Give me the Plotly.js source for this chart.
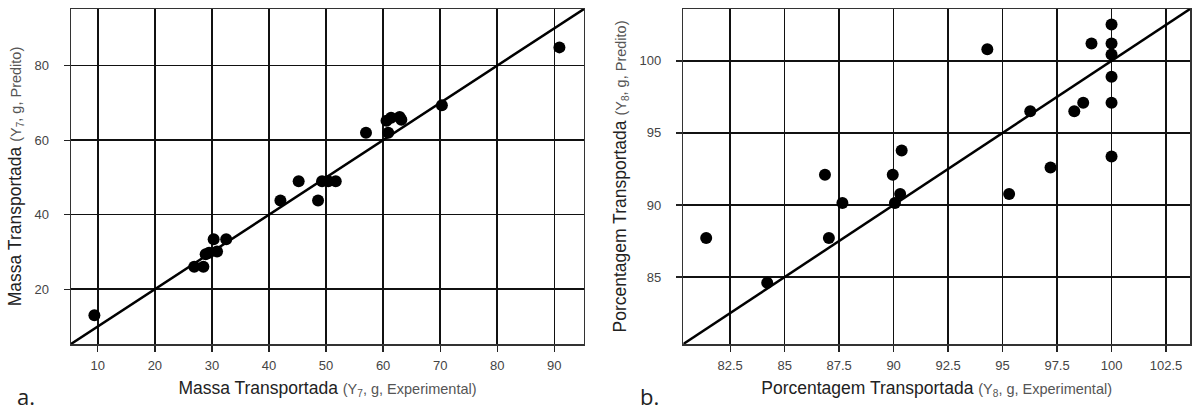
<!DOCTYPE html>
<html>
<head>
<meta charset="utf-8">
<script src="https://cdn.plot.ly/plotly-3.0.1.min.js"></script>
<style>html,body{margin:0;padding:0;background:#fff;}#chart{width:1192px;height:414px;}</style>
</head>
<body>
<div id="chart"></div>
<script>
// Panel a: Massa Transportada (Y7)
const massaExperimental = [9.4, 26.9, 28.5, 28.9, 29.5, 30.9, 30.3, 32.5, 42.0, 45.2, 48.6, 49.3, 50.4, 51.7, 57.0, 60.6, 61.4, 60.9, 62.9, 63.2, 70.3, 90.9];
const massaPredito     = [13.0, 26.0, 26.0, 29.4, 29.8, 30.1, 33.4, 33.4, 43.8, 49.0, 43.8, 49.0, 49.0, 49.0, 62.0, 65.2, 66.0, 62.0, 66.2, 65.5, 69.4, 84.9];
const massaRange = [5.3, 95.2];
const massaTicks = [10, 20, 30, 40, 50, 60, 70, 80, 90];
const massaYTicks = [20, 40, 60, 80];

// Panel b: Porcentagem Transportada (Y8)
const porcExperimental = [81.4, 84.2, 86.85, 87.03, 87.65, 89.96, 90.37, 90.3, 90.06, 94.3, 95.3, 96.27, 97.2, 98.29, 98.7, 99.08, 100, 100, 100, 100, 100, 100];
const porcPredito      = [87.7, 84.6, 92.1, 87.7, 90.14, 92.1, 93.78, 90.76, 90.14, 100.81, 90.76, 96.5, 92.6, 96.5, 97.1, 101.2, 102.53, 101.2, 100.45, 98.9, 97.1, 93.37];
const porcRange = [80.35, 103.6];
const porcTicks = [82.5, 85, 87.5, 90, 92.5, 95, 97.5, 100, 102.5];
const porcTickText = ['82.5', '85', '87.5', '90', '92.5', '95', '97.5', '100', '102.5'];
const porcYTicks = [85, 90, 95, 100];

const FONT = '"Liberation Sans", Arial, sans-serif';
const marker = {color: '#000', size: 12};
const traces = [
  {x: massaRange, y: massaRange, mode: 'lines', line: {color: '#000', width: 2.5}, xaxis: 'x', yaxis: 'y', hoverinfo: 'skip'},
  {x: massaExperimental, y: massaPredito, mode: 'markers', marker: marker, xaxis: 'x', yaxis: 'y'},
  {x: porcRange, y: porcRange, mode: 'lines', line: {color: '#000', width: 2.5}, xaxis: 'x2', yaxis: 'y2', hoverinfo: 'skip'},
  {x: porcExperimental, y: porcPredito, mode: 'markers', marker: marker, xaxis: 'x2', yaxis: 'y2'}
];

function axis(extra) {
  return Object.assign({
    showgrid: true, gridcolor: '#111', gridwidth: 1.5,
    showline: true, linecolor: '#333', linewidth: 1.5, mirror: true,
    ticks: 'outside', ticklen: 6, tickcolor: '#222', tickwidth: 1.3,
    tickfont: {family: FONT, size: 13, color: '#444'},
    zeroline: false, fixedrange: true, automargin: false
  }, extra);
}

const sub = (t) => '<span style="font-size:14.5px;color:#555">' + t + '</span>';
const titleFont = {family: FONT, size: 17.5, color: '#222'};

const layout = {
  width: 1192, height: 414,
  margin: {l: 71, r: 2, t: 9, b: 70},
  paper_bgcolor: '#fff', plot_bgcolor: '#fff',
  showlegend: false,
  xaxis: axis({domain: [0, 0.4584], range: massaRange, tickvals: massaTicks, ticklabelstandoff: 3,
    title: {text: 'Massa Transportada ' + sub('(Y<sub>7</sub>, g, Experimental)'), font: titleFont, standoff: 9}}),
  yaxis: axis({domain: [0, 1], range: massaRange, tickvals: massaYTicks, ticklabelstandoff: 12,
    title: {text: 'Massa Transportada ' + sub('(Y<sub>7</sub>, g, Predito)'), font: titleFont, standoff: 8}}),
  xaxis2: axis({domain: [0.5472, 1], range: porcRange, tickvals: porcTicks, ticktext: porcTickText, ticklabelstandoff: 3, anchor: 'y2',
    title: {text: 'Porcentagem Transportada ' + sub('(Y<sub>8</sub>, g, Experimental)'), font: titleFont, standoff: 9}}),
  yaxis2: axis({domain: [0, 1], range: porcRange, tickvals: porcYTicks, ticklabelstandoff: 12, anchor: 'x2',
    title: {text: 'Porcentagem Transportada ' + sub('(Y<sub>8</sub>, g, Predito)'), font: titleFont, standoff: 8}}),
  annotations: [
    {text: 'a.', xref: 'paper', yref: 'paper', x: -0.0502, y: -0.207, xanchor: 'left', yanchor: 'bottom', showarrow: false, font: {family: 'Open Sans, sans-serif', size: 22, color: '#222'}},
    {text: 'b.', xref: 'paper', yref: 'paper', x: 0.5064, y: -0.207, xanchor: 'left', yanchor: 'bottom', showarrow: false, font: {family: 'Open Sans, sans-serif', size: 22, color: '#222'}}
  ]
};

Plotly.newPlot('chart', traces, layout, {displayModeBar: false, staticPlot: true});
</script>
</body>
</html>
